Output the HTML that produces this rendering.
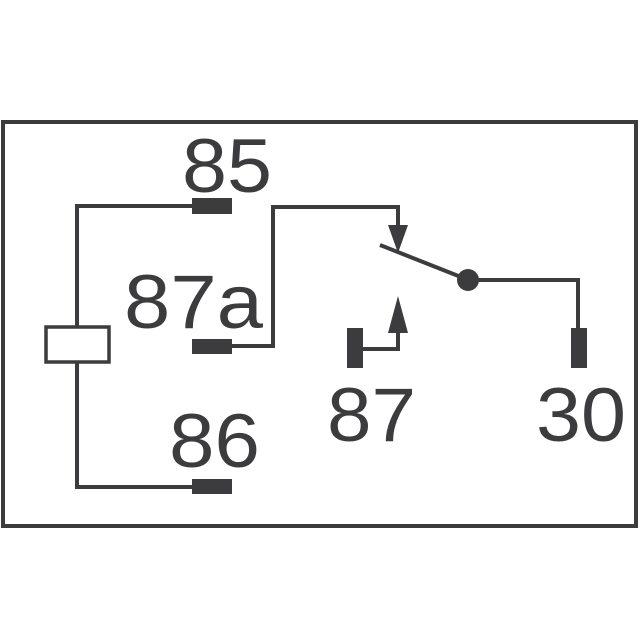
<!DOCTYPE html>
<html><head><style>body{margin:0;background:#fff}svg{display:block}</style></head><body>
<svg width="640" height="640" viewBox="0 0 640 640" xmlns="http://www.w3.org/2000/svg">
<g stroke="#3c3c3e" stroke-width="4" fill="none">
<rect x="3" y="122" width="633" height="404" stroke-width="4"/>
<polyline points="192,206 77,206 77,327"/>
<polyline points="77,362 77,487 192,487"/>
<rect x="46" y="327" width="63" height="35" stroke-width="3.5"/>
<polyline points="232,346 273,346 273,207 398,207 398,228"/>
<line x1="380" y1="245" x2="466" y2="279"/>
<polyline points="468,280 578,280 578,330"/>
<polyline points="362,349 398,349 398,325"/>
</g>
<g fill="#3c3c3e">
<rect x="192" y="198" width="40" height="16"/>
<rect x="192" y="339" width="40" height="15"/>
<rect x="192" y="479" width="40" height="15"/>
<rect x="347" y="328" width="16" height="40"/>
<rect x="571" y="328" width="16" height="40"/>
<circle cx="468" cy="280" r="11"/>
<polygon points="388,225 408,225 398,253"/>
<polygon points="388,333 408,333 398,296"/>
</g>
<g fill="#3c3c3e" font-family="Liberation Sans, sans-serif" font-size="76">
<text x="182" y="192" textLength="90" lengthAdjust="spacingAndGlyphs">85</text>
<text x="124" y="328" textLength="139" lengthAdjust="spacingAndGlyphs">87a</text>
<text x="169" y="467" textLength="91" lengthAdjust="spacingAndGlyphs">86</text>
<text x="327" y="441" textLength="89" lengthAdjust="spacingAndGlyphs">87</text>
<text x="536" y="441" textLength="90" lengthAdjust="spacingAndGlyphs">30</text>
</g>
</svg>
</body></html>
